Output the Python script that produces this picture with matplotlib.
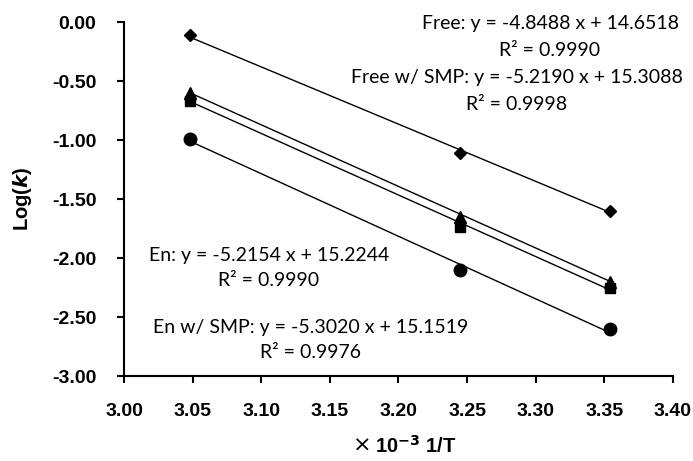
import numpy as np
import matplotlib.pyplot as plt

# 1/T (x10^-3) and Log(k)
inv_T = [3.048, 3.245, 3.354]
free = [-0.11, -1.11, -1.60]
free_smp = [-0.60, -1.65, -2.20]
en = [-0.67, -1.74, -2.25]
en_smp = [-0.99, -2.10, -2.60]

# trendline coefficients as printed on the chart
slopes = [-4.8488, -5.2190, -5.2154, -5.3020]
intercepts = [14.6518, 15.3088, 15.2244, 15.1519]
r2 = ["0.9990", "0.9998", "0.9990", "0.9976"]
names = ["Free", "Free w/ SMP", "En", "En w/ SMP"]

series = [free, free_smp, en, en_smp]
markers = ["D", "^", "s", "o"]
msizes = [6, 8, 7.5, 9]

fig = plt.figure(figsize=(6.93, 4.61), dpi=100)
ax = fig.add_axes([0.179, 0.184, 0.792, 0.768])

xfit = np.array([inv_T[0], inv_T[-1]])
for ys, m, ms, a, b in zip(series, markers, msizes, slopes, intercepts):
    ax.plot(xfit, a * xfit + b, color="black", lw=1.0, zorder=2)
    ax.plot(inv_T, ys, linestyle="none", marker=m, markersize=ms,
            color="black", zorder=3)

ax.set_xlim(3.00, 3.40)
ax.set_ylim(-3.00, 0.00)
ax.set_xticks(np.arange(3.00, 3.401, 0.05))
ax.set_yticks(np.arange(-3.00, 0.001, 0.50))
ax.xaxis.set_major_formatter(plt.FormatStrFormatter("%.2f"))
ax.yaxis.set_major_formatter(plt.FormatStrFormatter("%.2f"))
for s in ["top", "right"]:
    ax.spines[s].set_visible(False)
for s in ["left", "bottom"]:
    ax.spines[s].set_linewidth(1.5)
ax.tick_params(direction="out", length=5, width=1.5, labelsize=14)
ax.tick_params(axis="y", pad=15)
ax.tick_params(axis="x", pad=14)
for lab in ax.get_xticklabels() + ax.get_yticklabels():
    lab.set_fontfamily("Liberation Sans")
    lab.set_fontweight("bold")

fig.text(23 / 693, 1 - 199 / 461, r"Log($\boldsymbol{k}$)", fontsize=14.5,
         fontweight="bold", family="Liberation Sans", rotation=90,
         ha="center", va="center")
fig.text(353 / 693, 1 - 446 / 461, "\u00d7", fontsize=16, family="DejaVu Sans",
         ha="left", va="center")
fig.text(375 / 693, 1 - 446 / 461, r"10$^{\mathbf{-3}}$ 1/T", fontsize=14.5,
         fontweight="bold", family="Liberation Sans", ha="left", va="center")

ann = dict(fontsize=14, family="Lato", ha="center", va="center")
pos = [(550, 24, 51), (517, 78, 104), (269, 255, 280), (311, 327, 352)]
for name, a, b, r, (px, py1, py2) in zip(names, slopes, intercepts, r2, pos):
    fig.text(px / 693, 1 - py1 / 461, f"{name}: y = {a:.4f} x + {b:.4f}", **ann)
    fig.text(px / 693, 1 - py2 / 461, f"R\u00b2 = {r}", **ann)

fig.savefig("out.png", dpi=100)
